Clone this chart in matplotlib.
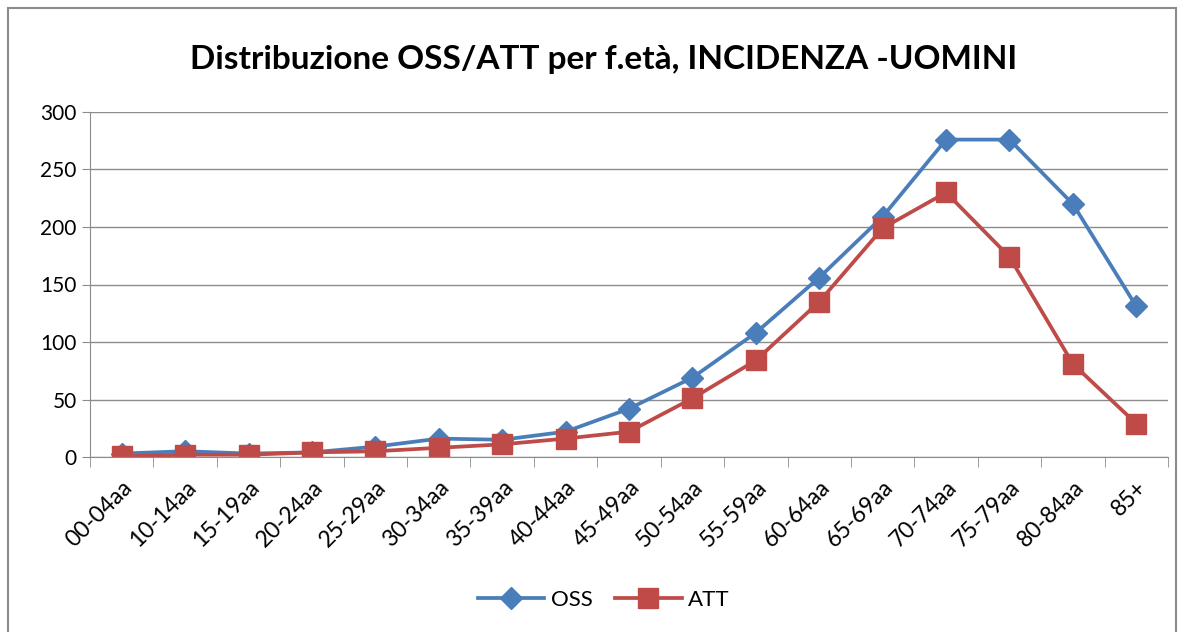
import matplotlib.pyplot as plt
from matplotlib.patches import Rectangle
from matplotlib.ticker import FixedLocator

plt.rcParams['font.family'] = ['Lato', 'DejaVu Sans']

# dati
categorie = ['00-04aa', '10-14aa', '15-19aa', '20-24aa', '25-29aa', '30-34aa',
             '35-39aa', '40-44aa', '45-49aa', '50-54aa', '55-59aa', '60-64aa',
             '65-69aa', '70-74aa', '75-79aa', '80-84aa', '85+']
oss = [3, 5, 3, 4, 9, 16, 15, 22, 42, 69, 108, 156, 209, 276, 276, 220, 131]
att = [0.5, 2, 2, 4, 5, 8, 11, 16, 22, 51, 84, 135, 199, 230, 174, 81, 29]

fig = plt.figure(figsize=(11.84, 6.32), dpi=100)
ax = fig.add_axes([90 / 1184, 1 - 457 / 632, (1168 - 90) / 1184, (457 - 112) / 632])

x = range(len(categorie))
ax.plot(x, oss, color='#4A7EBB', lw=2.7, marker='D', markersize=11, label='OSS')
ax.plot(x, att, color='#BE4B48', lw=2.7, marker='s', markersize=15, label='ATT')

ax.set_xlim(-0.5, len(categorie) - 0.5)
ax.set_ylim(0, 300)
ax.set_yticks(range(0, 301, 50))
ax.yaxis.grid(True, color='#8c8c8c', lw=1)
ax.set_axisbelow(True)

ax.set_xticks(list(x))
ax.set_xticklabels(categorie, rotation=45, ha='right', rotation_mode='anchor', fontsize=16.5)
ax.tick_params(axis='x', length=0, pad=14)
ax.xaxis.set_minor_locator(FixedLocator([i - 0.5 for i in range(len(categorie) + 1)]))
ax.tick_params(axis='x', which='minor', length=7, color='#8c8c8c', direction='out')
ax.tick_params(axis='y', labelsize=15, length=6, color='#8c8c8c', direction='out')

for s in ['top', 'right']:
    ax.spines[s].set_visible(False)
ax.spines['left'].set_color('#8c8c8c')
ax.spines['bottom'].set_color('#8c8c8c')

fig.text(0.51, 1 - 60 / 632, 'Distribuzione OSS/ATT per f.età, INCIDENZA -UOMINI',
         ha='center', va='center', fontsize=24, fontweight='bold')

fig.legend(loc='center', bbox_to_anchor=(0.51, 1 - 600 / 632), ncol=2, frameon=False,
           fontsize=16, handlelength=3, columnspacing=1.0, handletextpad=0.3)

fig.patches.append(Rectangle((8 / 1184, -0.05), 1168 / 1184, 1 - 8 / 632 + 0.05,
                             transform=fig.transFigure, fill=False,
                             edgecolor='#8c8c8c', lw=1.5))

plt.savefig('out.png')
